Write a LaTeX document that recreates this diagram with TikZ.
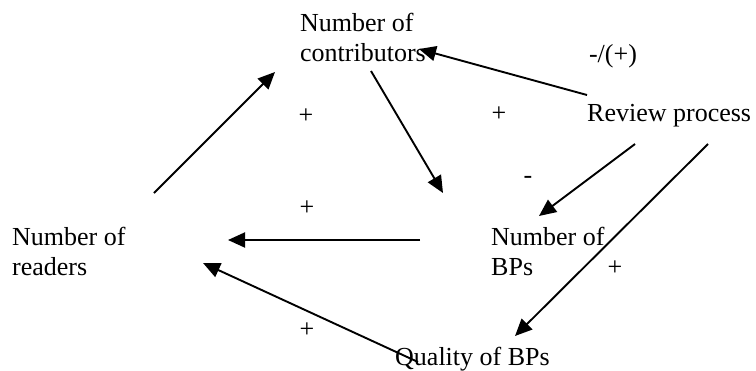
\documentclass[tikz,border=0pt]{standalone}
\usepackage{fontspec}
\setmainfont{Liberation Serif}
\usetikzlibrary{arrows.meta}
\begin{document}
\begin{tikzpicture}[x=1pt,y=-1pt,
  lbl/.style={inner sep=0pt, anchor=base west, align=left,
              font=\fontsize{26}{30}\selectfont},
  sgn/.style={inner sep=0pt, anchor=base, font=\fontsize{26}{30}\selectfont},
  link/.style={line width=1.9pt, -{Triangle[length=17pt,width=15pt]}}]
\useasboundingbox (0,0) rectangle (756,370);

% factors of the loop (base anchor = baseline of the last line)
\node[lbl] (contrib) at (300,61)  {Number of\\contributors};
\node[lbl] (review)  at (587,121) {Review process};
\node[lbl] (bps)     at (491,275) {Number of\\BPs};
\node[lbl] (readers) at (12,275)  {Number of\\readers};
\node[lbl] (quality) at (395,365) {Quality of BPs};

% causal links
\draw[link] ([shift={(142,-82)}]readers.base west) -- ([shift={(-25,11)}]contrib.base west);
\draw[link] ([shift={(71,10)}]contrib.base west)   -- ([shift={(-48,-82)}]bps.base west);
\draw[link] ([shift={(0,-26)}]review.base west)    -- ([shift={(119,-12)}]contrib.base west);
\draw[link] ([shift={(48,23)}]review.base west)    -- ([shift={(48,-59)}]bps.base west);
\draw[link] ([shift={(121,23)}]review.base west)   -- ([shift={(120,-29)}]quality.base west);
\draw[link] ([shift={(-71,-35)}]bps.base west)     -- ([shift={(216,-35)}]readers.base west);
\draw[link] ([shift={(23,-3)}]quality.base west)   -- ([shift={(191,-12)}]readers.base west);

% polarity of each link
\node[sgn] (s1) at (306,123) {+};
\node[sgn] (s2) at (499,121) {+};
\node[sgn] (s3) at (307,215) {+};
\node[sgn] (s4) at (307,337) {+};
\node[sgn] (s5) at (615,275) {+};
\node[sgn] (s6) at (528,183) {-};
\node[sgn] (s7) at (613,62)  {-/(+)};
\end{tikzpicture}
\end{document}
